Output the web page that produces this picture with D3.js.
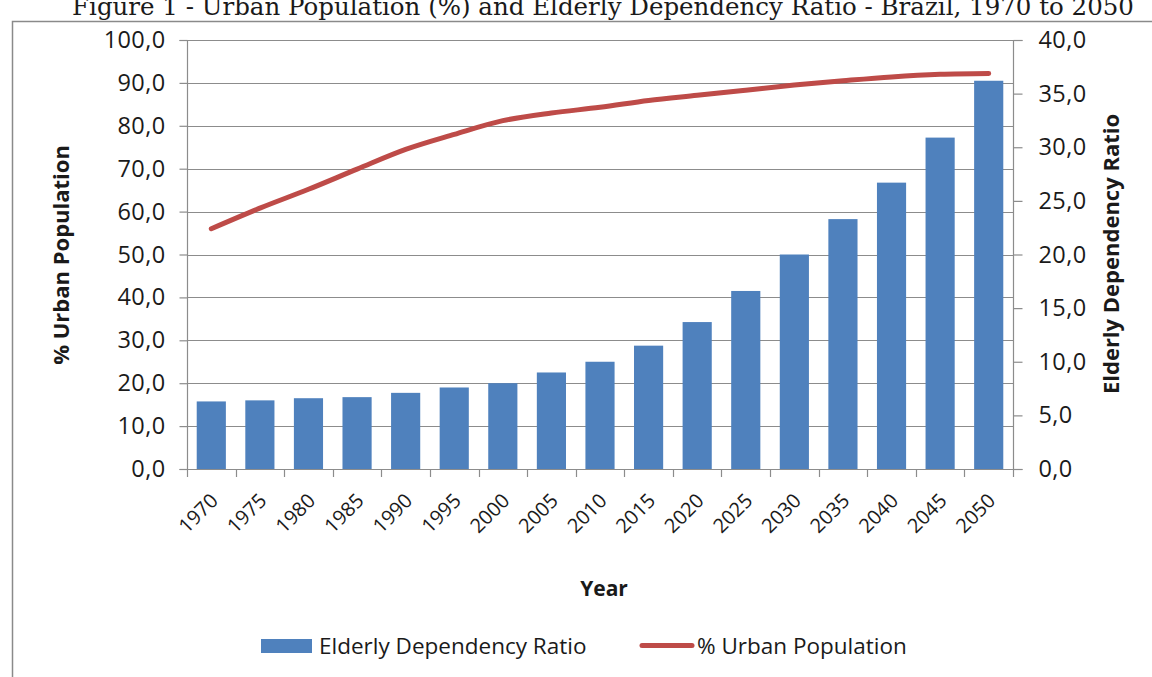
<!DOCTYPE html>
<html>
<head>
<meta charset="utf-8">
<script src="https://cdn.jsdelivr.net/npm/d3@7"></script>
<style>
  html, body { margin: 0; padding: 0; background: #fff; }
  svg { display: block; }
  text { font-family: "Open Sans", "Liberation Sans", sans-serif; fill: #1a1a1a; }
</style>
</head>
<body>
<svg id="chart" width="1152" height="677"></svg>
<script>
// ---- data ----
const years = ["1970","1975","1980","1985","1990","1995","2000","2005","2010","2015","2020","2025","2030","2035","2040","2045","2050"];
const elderlyRatio = [6.3, 6.4, 6.6, 6.7, 7.1, 7.6, 8.0, 9.0, 10.0, 11.5, 13.7, 16.6, 20.0, 23.3, 26.7, 30.9, 36.2];
const urbanPct = [56.0, 60.8, 65.2, 69.9, 74.5, 78.0, 81.2, 83.0, 84.3, 85.9, 87.1, 88.3, 89.5, 90.5, 91.4, 92.0, 92.2];
const leftTicks = [0, 10, 20, 30, 40, 50, 60, 70, 80, 90, 100];
const rightTicks = [0, 5, 10, 15, 20, 25, 30, 35, 40];
const titleText = "Figure 1 - Urban Population (%) and Elderly Dependency Ratio - Brazil, 1970 to 2050";
const seriesNames = ["Elderly Dependency Ratio", "% Urban Population"];

// ---- layout ----
const W = 1152, H = 677;
const plot = { left: 187, right: 1013, top: 40, bottom: 469 };
const gridColor = "#8c8c8c";
const barColor = "#4F81BD";
const lineColor = "#BE4B48";

const svg = d3.select("#chart");
svg.append("rect").attr("width", W).attr("height", H).attr("fill", "#fff");

// title (clipped at top of image, as in the source)
svg.append("text")
  .attr("x", 603).attr("y", 15)
  .attr("text-anchor", "middle")
  .style("font-family", "'DejaVu Serif', 'Liberation Serif', serif")
  .style("font-size", "24.5px")
  .attr("fill", "#111")
  .text(titleText);

// chart border
svg.append("rect")
  .attr("x", 12.5).attr("y", 21.5)
  .attr("width", W + 20).attr("height", H + 20)
  .attr("fill", "none").attr("stroke", "#8a8a8a").attr("stroke-width", 1.5);

// scales
const x = d3.scaleBand().domain(years).range([plot.left, plot.right]).paddingInner(0.4).paddingOuter(0.2);
const yL = d3.scaleLinear().domain([0, 100]).range([plot.bottom, plot.top]);
const yR = d3.scaleLinear().domain([0, 40]).range([plot.bottom, plot.top]);
const fmt = d => d3.format(".1f")(d).replace(".", ",");

// gridlines
svg.append("g").selectAll("line").data(leftTicks).join("line")
  .attr("x1", plot.left).attr("x2", plot.right)
  .attr("y1", d => Math.round(yL(d)) + 0.5).attr("y2", d => Math.round(yL(d)) + 0.5)
  .attr("stroke", gridColor).attr("stroke-width", 1.2);

// bars
svg.append("g").selectAll("rect").data(years).join("rect")
  .attr("x", d => x(d))
  .attr("width", x.bandwidth())
  .attr("y", (d, i) => yR(elderlyRatio[i]))
  .attr("height", (d, i) => plot.bottom - yR(elderlyRatio[i]))
  .attr("fill", barColor);

// left axis
const gL = svg.append("g").attr("transform", `translate(${plot.left + 0.5},0)`)
  .call(d3.axisLeft(yL).tickValues(leftTicks).tickFormat(fmt).tickSize(8).tickPadding(14));
// right axis
const gR = svg.append("g").attr("transform", `translate(${plot.right + 0.5},0)`)
  .call(d3.axisRight(yR).tickValues(rightTicks).tickFormat(fmt).tickSize(9).tickPadding(16));
[gL, gR].forEach(g => {
  g.select(".domain").attr("stroke", gridColor).attr("stroke-width", 1.2);
  g.selectAll(".tick line").attr("stroke", gridColor).attr("stroke-width", 1.2);
  g.selectAll(".tick text").style("font-size", "23.5px").style("letter-spacing", "0.4px").attr("fill", "#222");
});
gL.select(".domain").attr("d", `M-8,${plot.top + 0.5}H0V${plot.bottom + 0.5}H-8`);
gR.select(".domain").attr("d", `M9,${plot.top + 0.5}H0V${plot.bottom + 0.5}H9`);

// x axis
const step = x.step();
const boundaries = years.map(d => x(d) - step * x.paddingInner() / 2).concat([plot.right]);
const gX = svg.append("g");
gX.append("line").attr("x1", plot.left).attr("x2", plot.right)
  .attr("y1", plot.bottom + 0.5).attr("y2", plot.bottom + 0.5)
  .attr("stroke", gridColor).attr("stroke-width", 1.2);
gX.selectAll("line.tk").data(boundaries).join("line").attr("class", "tk")
  .attr("x1", d => Math.round(d) + 0.5).attr("x2", d => Math.round(d) + 0.5)
  .attr("y1", plot.bottom).attr("y2", plot.bottom + 8)
  .attr("stroke", gridColor).attr("stroke-width", 1.2);
gX.selectAll("text").data(years).join("text")
  .attr("transform", d => `translate(${x(d) + x.bandwidth() / 2 + 8},${plot.bottom + 33}) rotate(-45)`)
  .attr("text-anchor", "end")
  .style("font-size", "20px")
  .attr("fill", "#222")
  .text(d => d);

// line
const line = d3.line()
  .x((d, i) => x(years[i]) + x.bandwidth() / 2)
  .y(d => yL(d))
  .curve(d3.curveMonotoneX);
svg.append("path").datum(urbanPct)
  .attr("d", line)
  .attr("fill", "none").attr("stroke", lineColor)
  .attr("stroke-width", 5).attr("stroke-linecap", "round").attr("stroke-linejoin", "round");

// axis titles
svg.append("text").attr("x", 604).attr("y", 596).attr("text-anchor", "middle")
  .style("font-size", "21px").style("font-weight", "bold").text("Year");
svg.append("text").attr("transform", `translate(69,255) rotate(-90)`).attr("text-anchor", "middle")
  .style("font-size", "22px").style("font-weight", "bold").text("% Urban Population");
svg.append("text").attr("transform", `translate(1119,254) rotate(-90)`).attr("text-anchor", "middle")
  .style("font-size", "22px").style("font-weight", "bold").text("Elderly Dependency Ratio");

// legend
const lg = svg.append("g");
lg.append("rect").attr("x", 261).attr("y", 639).attr("width", 51).attr("height", 14).attr("fill", barColor);
lg.append("text").attr("x", 319).attr("y", 654).style("font-size", "22.5px").attr("fill", "#222").text(seriesNames[0]);
lg.append("line").attr("x1", 642).attr("x2", 692).attr("y1", 645.5).attr("y2", 645.5)
  .attr("stroke", lineColor).attr("stroke-width", 5).attr("stroke-linecap", "round");
lg.append("text").attr("x", 697).attr("y", 654).style("font-size", "22.5px").attr("fill", "#222").text(seriesNames[1]);
</script>
</body>
</html>
